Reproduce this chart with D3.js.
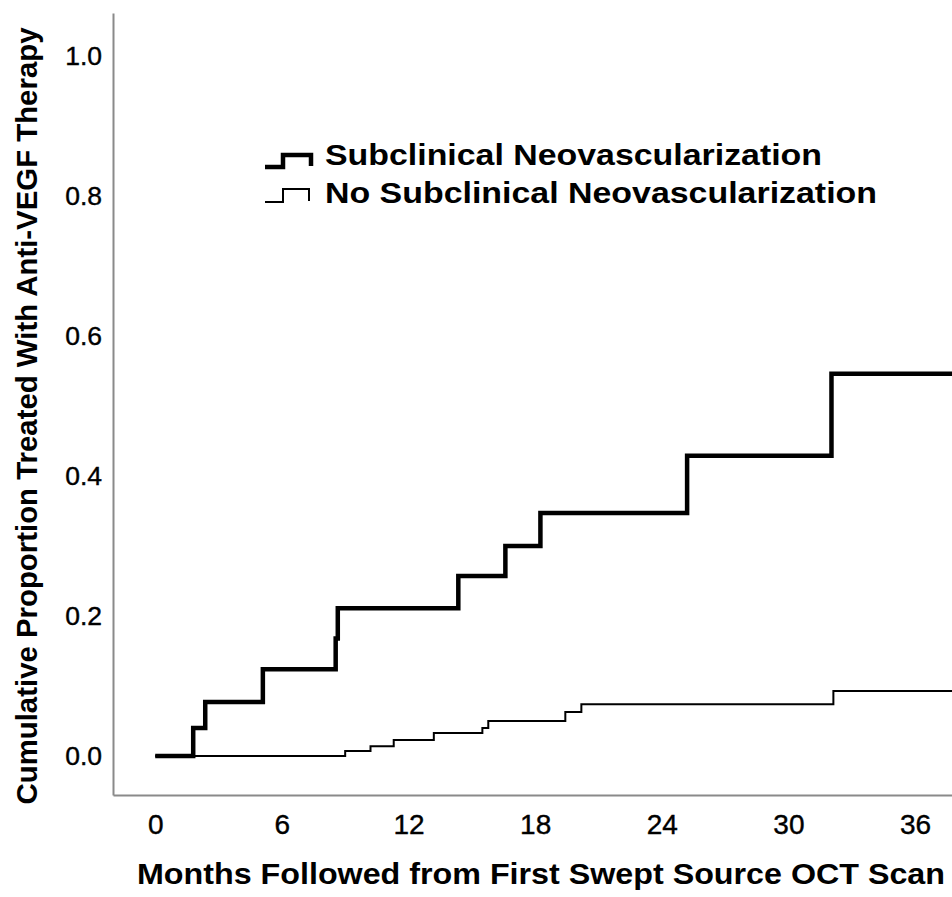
<!DOCTYPE html>
<html>
<head>
<meta charset="utf-8">
<script src="https://cdn.jsdelivr.net/npm/d3@7"></script>
<style>
  html, body { margin: 0; padding: 0; background: #fff; }
  svg { display: block; }
  text { font-family: "Liberation Sans", Arial, Helvetica, sans-serif; fill: #000; }
</style>
</head>
<body>
<svg id="chart" width="952" height="897"></svg>
<script>
// ---- data ----
const subMonths = [0, 1.8, 2.37, 5.1, 8.55, 8.65, 14.36, 16.59, 18.25, 25.2, 32.04, 37.8];
const subValues = [0, 0.04, 0.077, 0.124, 0.168, 0.211, 0.257, 0.30, 0.347, 0.429, 0.546, 0.546];

const noMonths = [0, 9.0, 10.2, 11.3, 13.2, 15.5, 15.78, 19.43, 20.19, 32.13, 37.8];
const noValues = [0, 0.007, 0.014, 0.023, 0.033, 0.04, 0.05, 0.063, 0.074, 0.093, 0.093];

const xTicks = [0, 6, 12, 18, 24, 30, 36];
const yTicks = [0.0, 0.2, 0.4, 0.6, 0.8, 1.0];

const seriesNames = ["Subclinical Neovascularization", "No Subclinical Neovascularization"];
const xTitle = "Months Followed from First Swept Source OCT Scan";
const yTitle = "Cumulative Proportion Treated With Anti-VEGF Therapy";

// ---- layout ----
const svg = d3.select("#chart");
const x = d3.scaleLinear().domain([-2, 37.75]).range([113, 952]);
const y = d3.scaleLinear().domain([-0.0557, 1.0614]).range([795, 13]);

const axisColor = "#8a8a8a";

// x axis
const gx = svg.append("g").attr("transform", "translate(0,795)")
  .call(d3.axisBottom(x).tickValues(xTicks).tickSize(0).tickSizeOuter(0).tickPadding(19)
        .tickFormat(d3.format("d")));
gx.select(".domain").attr("stroke", axisColor).attr("stroke-width", 2);
gx.selectAll("text").attr("font-size", 28).attr("font-family", "Liberation Sans, Arial, sans-serif")
  .attr("fill", "#000").attr("stroke", "#000").attr("stroke-width", 0.4);

// y axis
const gy = svg.append("g").attr("transform", "translate(113,0)")
  .call(d3.axisLeft(y).tickValues(yTicks).tickSize(0).tickSizeOuter(0).tickPadding(11)
        .tickFormat(d3.format(".1f")));
gy.select(".domain").attr("stroke", axisColor).attr("stroke-width", 2);
gy.selectAll("text").attr("font-size", 26.5).attr("font-family", "Liberation Sans, Arial, sans-serif")
  .attr("fill", "#000").attr("stroke", "#000").attr("stroke-width", 0.4);

// titles
svg.append("text")
  .attr("x", 137).attr("y", 884)
  .attr("font-size", 29).attr("font-weight", "bold")
  .attr("textLength", 808).attr("lengthAdjust", "spacingAndGlyphs")
  .text(xTitle);

svg.append("text")
  .attr("transform", "translate(37,416) rotate(-90)")
  .attr("text-anchor", "middle")
  .attr("font-size", 29).attr("font-weight", "bold")
  .attr("textLength", 777).attr("lengthAdjust", "spacingAndGlyphs")
  .text(yTitle);

// lines
const line = d3.line().x(d => x(d[0])).y(d => y(d[1])).curve(d3.curveStepAfter);
const noData = noMonths.map((m, i) => [m, noValues[i]]);
const subData = subMonths.map((m, i) => [m, subValues[i]]);

svg.append("path").datum(noData)
  .attr("d", line).attr("fill", "none").attr("stroke", "#000")
  .attr("stroke-width", 2);
svg.append("path").datum(subData)
  .attr("d", line).attr("fill", "none").attr("stroke", "#000")
  .attr("stroke-width", 4.5).attr("stroke-linejoin", "miter");

// legend
const legend = [
  { name: seriesNames[0], w: 4.5, base: 167, top: 155, right: 311, textY: 165, len: 497 },
  { name: seriesNames[1], w: 2, base: 202, top: 189, right: 309, textY: 203, len: 552 }
];
legend.forEach(l => {
  const p = d3.path();
  p.moveTo(265, l.base);
  p.lineTo(283, l.base);
  p.lineTo(283, l.top);
  p.lineTo(l.right, l.top);
  p.lineTo(l.right, l.base - 1);
  svg.append("path").attr("d", p.toString()).attr("fill", "none")
    .attr("stroke", "#000").attr("stroke-width", l.w);
  svg.append("text").attr("x", 325).attr("y", l.textY)
    .attr("font-size", 30).attr("font-weight", "bold")
    .attr("textLength", l.len).attr("lengthAdjust", "spacingAndGlyphs")
    .text(l.name);
});
</script>
</body>
</html>
